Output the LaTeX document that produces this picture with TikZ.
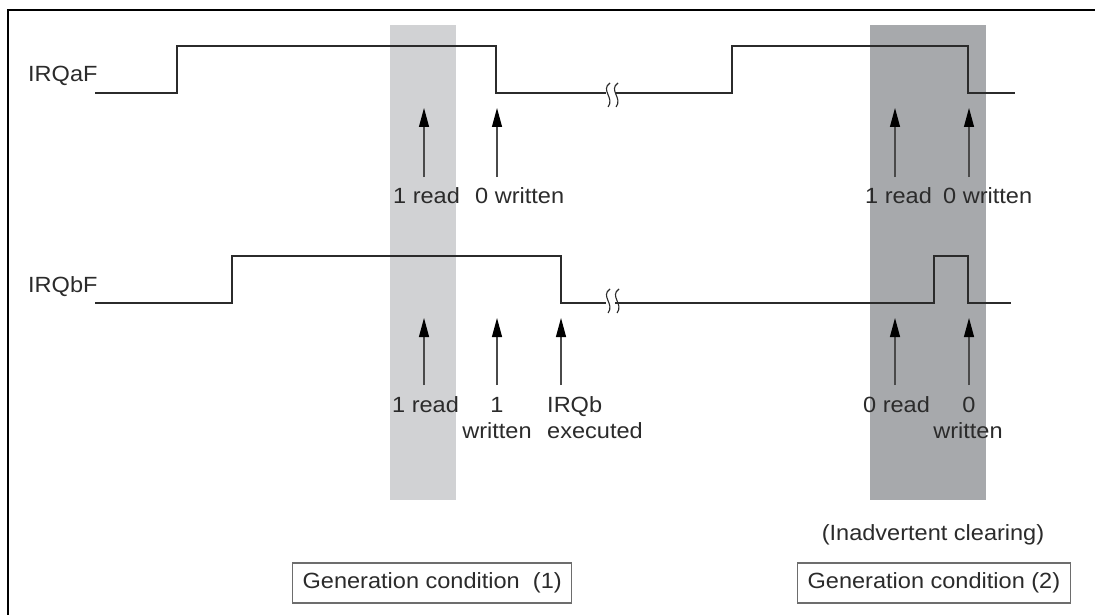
\documentclass[tikz,border=0pt]{standalone}
\usepackage{fontspec}
\setmainfont{Liberation Sans}[FakeStretch=1.07]
\usetikzlibrary{arrows.meta}
\definecolor{sig}{HTML}{2B2B2B}
\definecolor{bandlight}{HTML}{D1D2D4}
\definecolor{banddark}{HTML}{A7A9AC}
\definecolor{shaft}{HTML}{4A4A4A}
\definecolor{boxline}{HTML}{6D6D6D}
\newcommand\wavemark[2]{\draw[brk] (#1,#2) ++(3,-12) .. controls +(-10,7) and +(7,-9) .. ++(-2,24);}
\begin{document}
\begin{tikzpicture}[x=1pt,y=-1pt,line join=miter,
  signal/.style={draw=sig,line width=1.8pt},
  lbl/.style={font=\fontsize{22}{26}\selectfont,inner sep=0pt,text=sig},
  ptr/.style={draw=shaft,line width=1.1pt,-{Triangle[length=19pt,width=10pt,color=black]}},
  brk/.style={draw=sig,line width=1.1pt},
  cond/.style={draw=boxline,line width=1.3pt,font=\fontsize{22}{26}\selectfont,text=sig,minimum height=40pt,inner xsep=10pt,anchor=west}]
\useasboundingbox (0,0) rectangle (1095,615);
\fill[white] (0,0) rectangle (1095,615);
% bands
\fill[bandlight] (390,25) rectangle (456,500);
\fill[banddark] (870,25) rectangle (986,500);
% frame
\draw[line width=2.4pt] (8,615) -- (8,10) -- (1095,10);
% IRQaF
\node[lbl,anchor=base west] (la) at (28,82) {IRQaF};
\draw[signal] (95,93) -- (177,93) -- (177,46) -- (496,46) -- (496,93) -- (606,93);
\draw[signal] (615,93) -- (732,93) -- (732,46) -- (968,46) -- (968,93) -- (1015,93);
\wavemark{607}{95}
\wavemark{615}{95}
% IRQbF
\node[lbl,anchor=base west] (lb) at (28,292) {IRQbF};
\draw[signal] (95,303) -- (232,303) -- (232,256) -- (561,256) -- (561,303) -- (606,303);
\draw[signal] (615,303) -- (934,303) -- (934,256) -- (968,256) -- (968,303) -- (1011,303);
\wavemark{607}{301}
\wavemark{616}{301}
% arrows top
\coordinate (a1b) at (424,177); \coordinate (a1t) at (424,108);
\coordinate (a2b) at (497,177); \coordinate (a2t) at (497,108);
\coordinate (a3b) at (895,177); \coordinate (a3t) at (895,108);
\coordinate (a4b) at (969,177); \coordinate (a4t) at (969,108);
\draw[ptr] (a1b) -- (a1t);
\draw[ptr] (a2b) -- (a2t);
\draw[ptr] (a3b) -- (a3t);
\draw[ptr] (a4b) -- (a4t);
\node[lbl,anchor=base west] (t1) at (393,203) {1 read};
\node[lbl,anchor=base west] (t2) at (475,203) {0 written};
\node[lbl,anchor=base west] (t3) at (865,203) {1 read};
\node[lbl,anchor=base west] (t4) at (943,203) {0 written};
% arrows bottom
\coordinate (b1b) at (424,385); \coordinate (b1t) at (424,318);
\coordinate (b2b) at (497,385); \coordinate (b2t) at (497,318);
\coordinate (b3b) at (561,385); \coordinate (b3t) at (561,318);
\coordinate (b4b) at (895,385); \coordinate (b4t) at (895,318);
\coordinate (b5b) at (969,385); \coordinate (b5t) at (969,318);
\draw[ptr] (b1b) -- (b1t);
\draw[ptr] (b2b) -- (b2t);
\draw[ptr] (b3b) -- (b3t);
\draw[ptr] (b4b) -- (b4t);
\draw[ptr] (b5b) -- (b5t);
\node[lbl,anchor=base west] (u1) at (392,412) {1 read};
\node[lbl,anchor=base] (u2a) at (497,412) {1};
\node[lbl,anchor=base] (u2b) at (497,438) {written};
\node[lbl,anchor=base west] (u3a) at (547,412) {IRQb};
\node[lbl,anchor=base west] (u3b) at (547,438) {executed};
\node[lbl,anchor=base west] (u4) at (863,412) {0 read};
\node[lbl,anchor=base] (u5a) at (969,412) {0};
\node[lbl,anchor=base] (u5b) at (968,438) {written};
% bottom
\node[lbl,anchor=base] (inad) at (933,540) {(Inadvertent clearing)};
\node[cond] (c1) at (292,583) {Generation condition\ \ (1)};
\node[cond] (c2) at (797,583) {Generation condition (2)};
\end{tikzpicture}
\end{document}
